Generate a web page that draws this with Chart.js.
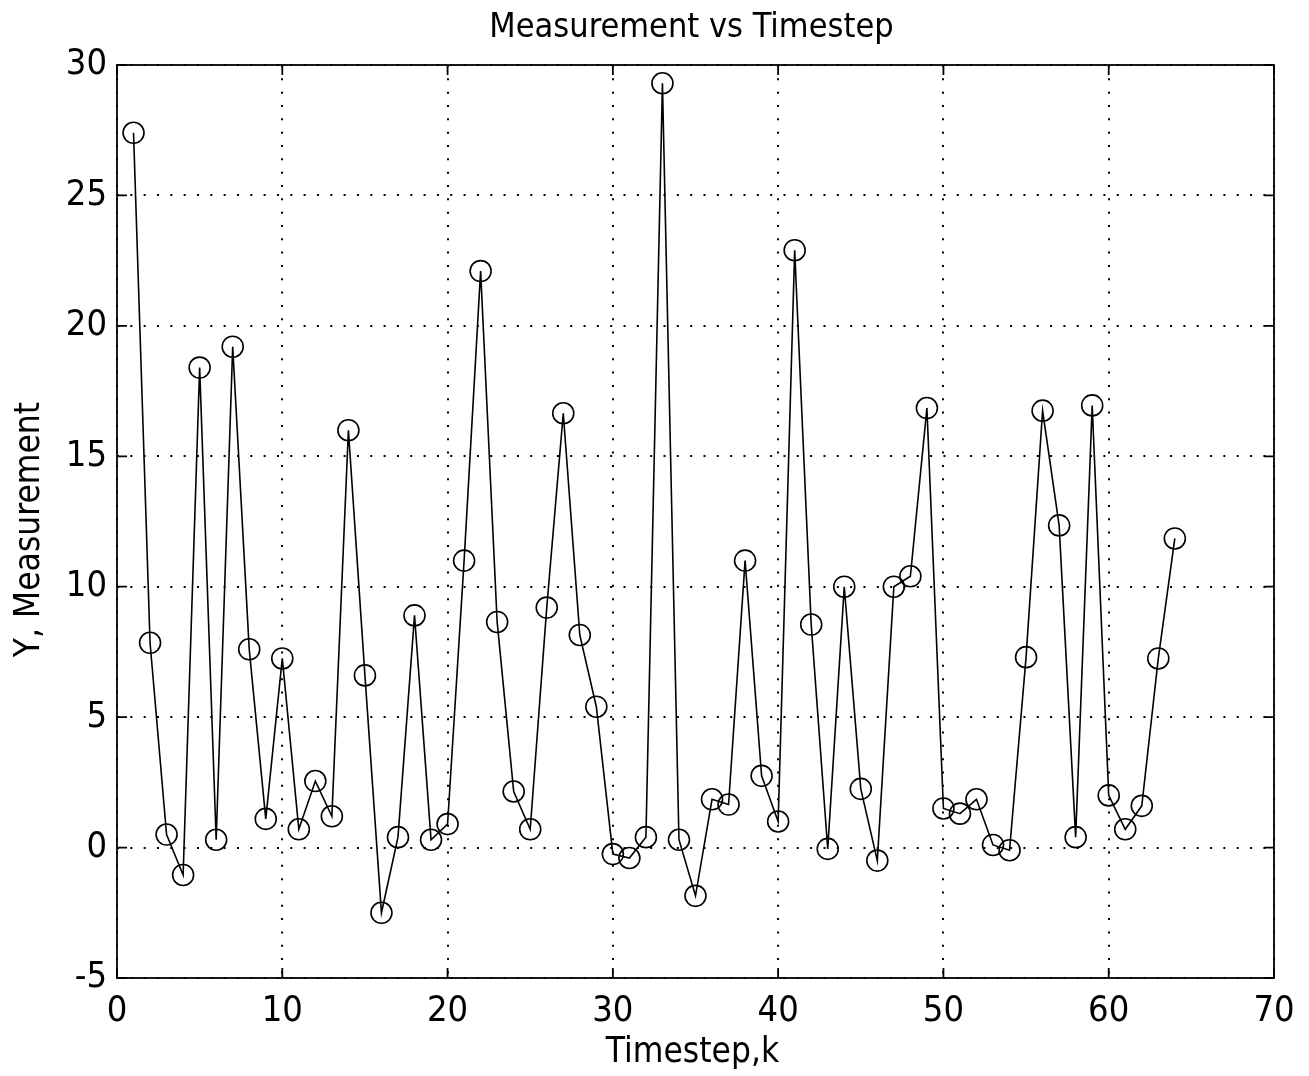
<!DOCTYPE html>
<html>
<head>
<meta charset="utf-8">
<title>Measurement vs Timestep</title>
<script src="https://cdn.jsdelivr.net/npm/chart.js@4.4.0/dist/chart.umd.min.js"></script>
<style>
    html, body { margin: 0; padding: 0; background: #fff; }
    #wrap { width: 1309px; height: 1076px; }
</style>
</head>
<body>
<div id="wrap"><canvas id="chart" width="1309" height="1076"></canvas></div>
<script>
// ===== DATA =====
const timesteps = [
    1, 2, 3, 4, 5, 6, 7, 8, 9, 10, 11, 12, 13, 14, 15, 16,
    17, 18, 19, 20, 21, 22, 23, 24, 25, 26, 27, 28, 29, 30, 31, 32,
    33, 34, 35, 36, 37, 38, 39, 40, 41, 42, 43, 44, 45, 46, 47, 48,
    49, 50, 51, 52, 53, 54, 55, 56, 57, 58, 59, 60, 61, 62, 63, 64
];
const measurements = [
    27.4, 7.85, 0.5, -1.05, 18.4, 0.3, 19.2, 7.6, 1.1, 7.25, 0.7, 2.55, 1.2, 16.0, 6.6, -2.5,
    0.4, 8.9, 0.3, 0.9, 11.0, 22.1, 8.65, 2.15, 0.7, 9.2, 16.65, 8.15, 5.4, -0.25, -0.4, 0.4,
    29.3, 0.3, -1.85, 1.85, 1.65, 11.0, 2.75, 1.0, 22.9, 8.55, -0.05, 10.0, 2.25, -0.5, 10.0, 10.4,
    16.85, 1.5, 1.3, 1.85, 0.1, -0.1, 7.3, 16.75, 12.35, 0.4, 16.95, 2.0, 0.7, 1.6, 7.25, 11.85
];
const xTicks = [0, 10, 20, 30, 40, 50, 60, 70];
const yTicks = [-5, 0, 5, 10, 15, 20, 25, 30];

const titleText = 'Measurement vs Timestep';
const xLabel = 'Timestep,k';
const yLabel = 'Y, Measurement';

const FONT = "'Liberation Sans Narrow', 'DejaVu Sans Condensed', 'Liberation Sans', sans-serif";

// ===== MATLAB STYLE FRAME (box + inward ticks) =====
const framePlugin = {
    id: 'matlabFrame',
    afterDatasetsDraw(chart) {
        const { ctx, chartArea: a, scales } = chart;
        const tickLen = 10;
        ctx.save();
        ctx.strokeStyle = '#000';
        ctx.lineWidth = 1.8;
        ctx.strokeRect(a.left, a.top, a.right - a.left, a.bottom - a.top);

        ctx.beginPath();
        scales.x.ticks.forEach(t => {
            const px = scales.x.getPixelForValue(t.value);
            ctx.moveTo(px, a.bottom); ctx.lineTo(px, a.bottom - tickLen);
            ctx.moveTo(px, a.top); ctx.lineTo(px, a.top + tickLen);
        });
        scales.y.ticks.forEach(t => {
            const py = scales.y.getPixelForValue(t.value);
            ctx.moveTo(a.left, py); ctx.lineTo(a.left + tickLen, py);
            ctx.moveTo(a.right, py); ctx.lineTo(a.right - tickLen, py);
        });
        ctx.stroke();
        ctx.restore();
    }
};

// ===== TITLE + AXIS LABELS =====
const textPlugin = {
    id: 'matlabText',
    afterDraw(chart) {
        const { ctx, chartArea: a } = chart;
        const cx = (a.left + a.right) / 2;
        ctx.save();
        ctx.fillStyle = '#000';
        ctx.textAlign = 'center';
        ctx.textBaseline = 'middle';
        ctx.font = `34px ${FONT}`;
        ctx.fillText(titleText, cx - 4, 28);
        ctx.font = `35px ${FONT}`;
        ctx.fillText(xLabel, cx - 3, a.bottom + 75);
        ctx.translate(30, (a.top + a.bottom) / 2 + 8);
        ctx.rotate(-Math.PI / 2);
        ctx.fillText(yLabel, 0, 0);
        ctx.restore();
    }
};

// ===== RENDER CHART =====
const ctx = document.getElementById('chart').getContext('2d');

new Chart(ctx, {
    type: 'line',
    data: {
        datasets: [{
            label: 'Measurement',
            data: timesteps.map((k, i) => ({ x: k, y: measurements[i] })),
            borderColor: '#000',
            borderWidth: 1.6,
            pointStyle: 'circle',
            pointRadius: 10.5,
            pointBorderWidth: 1.6,
            pointBorderColor: '#000',
            pointBackgroundColor: 'rgba(0,0,0,0)',
            tension: 0,
            fill: false
        }]
    },
    options: {
        responsive: false,
        animation: false,
        devicePixelRatio: 1,
        layout: { padding: { top: 65, right: 35, bottom: 0, left: 0 } },
        plugins: {
            legend: { display: false },
            title: { display: false },
            tooltip: { enabled: false }
        },
        scales: {
            x: {
                type: 'linear',
                min: 0,
                max: 70,
                afterBuildTicks: s => { s.ticks = xTicks.map(v => ({ value: v })); },
                afterFit: s => { s.height = 98; },
                grid: { color: '#000', lineWidth: 2, drawTicks: false },
                border: { display: false, dash: [2, 11.33] },
                ticks: {
                    color: '#000',
                    font: { family: FONT, size: 36 },
                    padding: 12,
                    autoSkip: false,
                    maxRotation: 0
                }
            },
            y: {
                type: 'linear',
                min: -5,
                max: 30,
                afterBuildTicks: s => { s.ticks = yTicks.map(v => ({ value: v })); },
                afterFit: s => { s.width = 117; },
                grid: { color: '#000', lineWidth: 2, drawTicks: false },
                border: { display: false, dash: [2, 11.33] },
                ticks: {
                    color: '#000',
                    font: { family: FONT, size: 36 },
                    padding: 10,
                    autoSkip: false
                }
            }
        }
    },
    plugins: [framePlugin, textPlugin]
});
</script>
</body>
</html>
